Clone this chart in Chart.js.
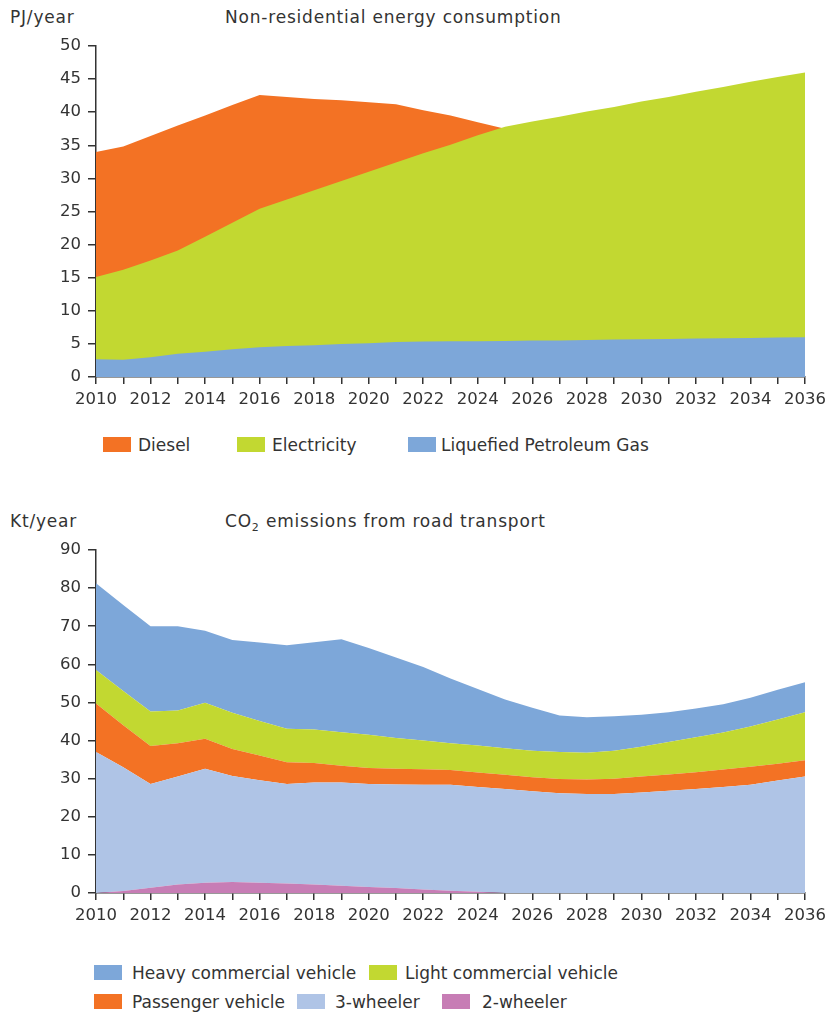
<!DOCTYPE html>
<html><head><meta charset="utf-8">
<script src="https://cdn.jsdelivr.net/npm/chart.js@4/dist/chart.umd.min.js"></script>
<style>
html,body{margin:0;padding:0;background:#fff;}
#wrap{position:relative;width:836px;height:1014px;overflow:hidden;font-family:"DejaVu Sans",sans-serif;color:#333;}
.t{position:absolute;white-space:nowrap;font-size:17px;line-height:20px;}
.ttl{letter-spacing:0.8px;}
.box{position:absolute;width:28px;height:15px;}
canvas{position:absolute;left:0;}
</style></head><body>
<div id="wrap">
  <div class="t ttl" style="left:10px;top:7px">PJ/year</div>
  <div class="t ttl" style="left:225px;top:7px">Non-residential energy consumption</div>
  <canvas id="c1" width="836" height="420" style="top:0;width:836px;height:420px"></canvas>

  <div class="box" style="left:103px;top:437px;background:#F37224"></div>
  <div class="t" style="left:138px;top:435px">Diesel</div>
  <div class="box" style="left:237px;top:437px;background:#C2D831"></div>
  <div class="t" style="left:272px;top:435px">Electricity</div>
  <div class="box" style="left:408px;top:437px;background:#7DA7D9"></div>
  <div class="t" style="left:441px;top:435px">Liquefied Petroleum Gas</div>

  <div class="t ttl" style="left:10px;top:511px">Kt/year</div>
  <div class="t ttl" style="left:225px;top:511px">CO<span style="font-size:11px;position:relative;top:4px">2</span> emissions from road transport</div>
  <canvas id="c2" width="836" height="440" style="top:500px;width:836px;height:440px"></canvas>

  <div class="box" style="left:94px;top:965px;background:#7DA7D9"></div>
  <div class="t" style="left:132px;top:963px">Heavy commercial vehicle</div>
  <div class="box" style="left:369px;top:965px;background:#C2D831"></div>
  <div class="t" style="left:405px;top:963px">Light commercial vehicle</div>
  <div class="box" style="left:94px;top:994px;background:#F37224"></div>
  <div class="t" style="left:132px;top:992px">Passenger vehicle</div>
  <div class="box" style="left:297px;top:994px;background:#AFC4E6"></div>
  <div class="t" style="left:335px;top:992px">3-wheeler</div>
  <div class="box" style="left:442px;top:994px;background:#C77DB5"></div>
  <div class="t" style="left:482px;top:992px">2-wheeler</div>
</div>
<script>
const years = ['2010','2011','2012','2013','2014','2015','2016','2017','2018','2019','2020','2021','2022','2023','2024','2025','2026','2027','2028','2029','2030','2031','2032','2033','2034','2035','2036'];

// Non-residential energy consumption (PJ/year) - areas drawn overlapping from zero
const dieselPJ = [34.0,34.8,36.4,38.0,39.5,41.1,42.6,42.3,42.0,41.8,41.5,41.2,40.3,39.5,38.5,37.5,37.0,36.5,36.1,35.6,35.2,34.8,34.4,34.0,33.5,33.1,32.7];
const electricityPJ = [15.1,16.2,17.6,19.1,21.2,23.3,25.4,26.8,28.2,29.6,31.0,32.4,33.8,35.1,36.5,37.8,38.6,39.3,40.1,40.8,41.6,42.3,43.1,43.8,44.6,45.3,46.0];
const lpgPJ = [2.7,2.6,3.0,3.5,3.8,4.2,4.5,4.7,4.8,5.0,5.1,5.3,5.35,5.4,5.4,5.45,5.5,5.5,5.6,5.65,5.7,5.75,5.8,5.85,5.9,5.95,6.0];
const energyTicks = [0,5,10,15,20,25,30,35,40,45,50];

// CO2 emissions from road transport (Kt/year) - stacked
const twoWheeler = [0,0.5,1.4,2.2,2.7,2.9,2.7,2.5,2.2,1.9,1.6,1.3,0.9,0.6,0.3,0,0,0,0,0,0,0,0,0,0,0,0];
const threeWheeler = [37.0,32.5,27.2,28.4,29.9,27.8,26.9,26.1,26.8,27.1,27.0,27.2,27.5,27.8,27.5,27.3,26.7,26.2,26.0,26.0,26.4,26.8,27.3,27.8,28.4,29.5,30.6];
const passengerVehicle = [12.7,11.0,10.0,8.7,7.9,7.1,6.5,5.7,5.1,4.4,4.2,4.1,4.1,3.9,3.8,3.7,3.7,3.7,3.8,4.0,4.2,4.3,4.4,4.6,4.7,4.4,4.2];
const lightCommercial = [8.8,9.0,9.0,8.6,9.4,9.5,9.0,8.8,8.8,8.8,8.7,8.1,7.5,7.0,7.1,7.0,6.9,7.1,7.0,7.3,7.8,8.5,9.2,9.7,10.6,11.6,12.6];
const heavyCommercial = [22.8,22.6,22.4,22.1,18.9,19.1,20.6,21.9,22.9,24.4,22.8,21.1,19.3,17.0,14.8,12.8,11.3,9.6,9.3,9.1,8.4,7.8,7.5,7.4,7.5,7.8,7.9];
const co2Ticks = [0,10,20,30,40,50,60,70,80,90];

const COL = {orange:'#F37224', green:'#C2D831', blue:'#7DA7D9', light:'#AFC4E6', pink:'#C77DB5'};

Chart.defaults.font.family = '"DejaVu Sans", sans-serif';
Chart.defaults.font.size = 16.5;
Chart.defaults.color = '#333';

function area(label, data, color, fill, order) {
  const ds = {label, data, backgroundColor: color, borderColor: color, borderWidth: 0,
          pointRadius: 0, tension: 0, fill};
  if (order !== undefined) ds.order = order;
  return ds;
}

function makeOptions(tickVals, maxV, padTop, xHeight, stacked) {
  return {
    responsive: false, animation: false, devicePixelRatio: 1,
    layout: {padding: {top: padTop, right: 31, bottom: 0, left: 0}},
    plugins: {legend: {display: false}, tooltip: {enabled: false}},
    scales: {
      x: {
        type: 'category', offset: false,
        border: {display: true, color: '#333', width: 1.5},
        grid: {display: true, drawOnChartArea: false, drawTicks: true, tickLength: 7, color: '#333', lineWidth: 1.5},
        ticks: {autoSkip: false, maxRotation: 0, minRotation: 0, padding: 6,
          callback: function(v, i) { return i % 2 === 0 ? this.getLabelForValue(v) : ''; }},
        afterFit: s => { s.height = xHeight; }
      },
      y: {
        min: 0, max: maxV, stacked: stacked,
        border: {display: true, color: '#333', width: 1.5},
        grid: {display: true, drawOnChartArea: false, drawTicks: true, tickLength: 8, color: '#333', lineWidth: 1.5},
        afterBuildTicks: s => { s.ticks = tickVals.map(v => ({value: v})); },
        ticks: {padding: 7},
        afterFit: s => { s.width = 96; }
      }
    }
  };
}

new Chart(document.getElementById('c1'), {
  type: 'line',
  data: {labels: years, datasets: [
    area('Diesel', dieselPJ, COL.orange, 'origin', 3),
    area('Electricity', electricityPJ, COL.green, 'origin', 2),
    area('Liquefied Petroleum Gas', lpgPJ, COL.blue, 'origin', 1)
  ]},
  options: makeOptions(energyTicks, 50, 46, 43, false)
});

new Chart(document.getElementById('c2'), {
  type: 'line',
  data: {labels: years, datasets: [
    area('2-wheeler', twoWheeler, COL.pink, 'origin'),
    area('3-wheeler', threeWheeler, COL.light, '-1'),
    area('Passenger vehicle', passengerVehicle, COL.orange, '-1'),
    area('Light commercial vehicle', lightCommercial, COL.green, '-1'),
    area('Heavy commercial vehicle', heavyCommercial, COL.blue, '-1')
  ]},
  options: makeOptions(co2Ticks, 90, 50, 47, true)
});
</script>
</body></html>
